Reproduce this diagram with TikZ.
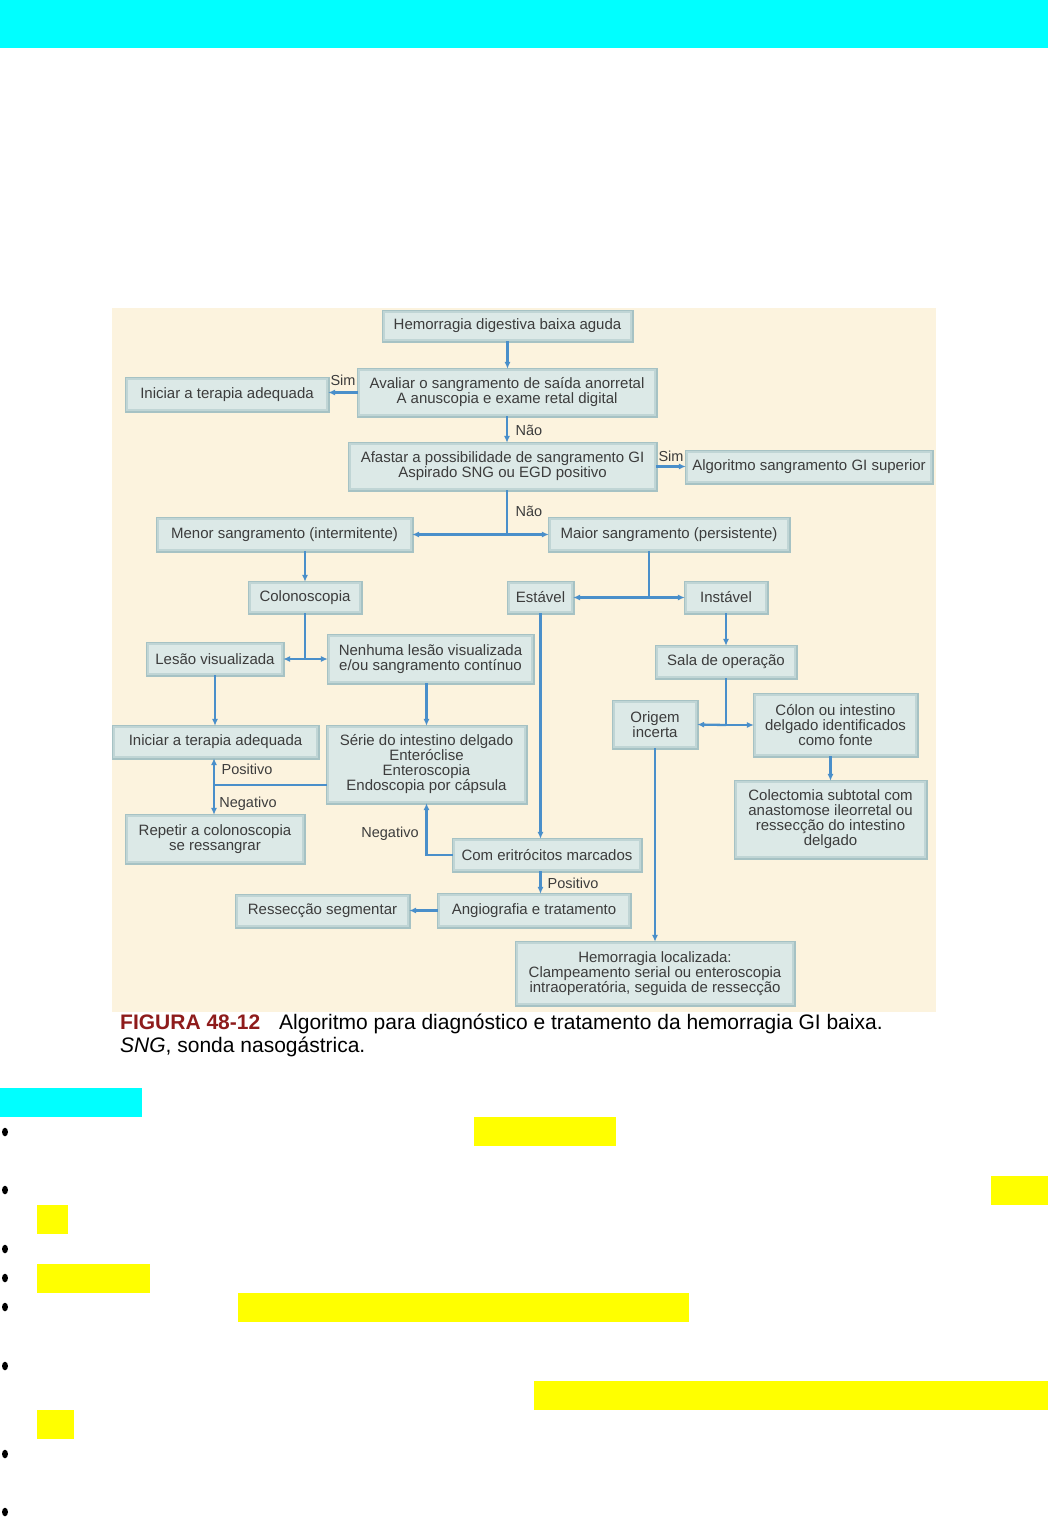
\documentclass[tikz,border=0pt]{standalone}
\usepackage{fontspec}
\setmainfont{Liberation Sans}
\usetikzlibrary{arrows.meta,calc}
\definecolor{cyanbar}{HTML}{00FFFF}
\definecolor{hl}{HTML}{FFFF00}
\definecolor{cream}{HTML}{FCF3DE}
\definecolor{boxfill}{HTML}{DCE9E7}
\definecolor{boxedge}{HTML}{C0D5D5}
\definecolor{boxouter}{HTML}{A6C2C4}
\definecolor{arrowc}{HTML}{4A8FCA}
\definecolor{txt}{HTML}{3C3C3C}
\definecolor{figred}{HTML}{8E1B1B}
\begin{document}
\begin{tikzpicture}[x=1pt,y=-1pt,
  box/.style={preaction={draw=boxouter,line width=5pt},draw=boxedge,line width=2.2pt,fill=boxfill,inner sep=0pt,align=center,text=txt,font=\fontsize{15}{15}\selectfont},
  lbl/.style={inner sep=0pt,text=txt,font=\fontsize{14.5}{15}\selectfont},
  conn/.style={draw=arrowc,line width=2.3pt},
  arr/.style={conn,-{Latex[length=7pt,width=6pt]}},
  captxt/.style={anchor=base west,inner sep=0pt,font=\fontsize{21}{23}\selectfont},
]
\useasboundingbox (0,0) rectangle (1048,1517);
\fill[white] (0,0) rectangle (1048,1517);
\fill[cyanbar] (0,0) rectangle (1048,48);
\fill[cream] (112,308) rectangle (936,1012);

% boxes
\node[box,minimum width=247pt,minimum height=28pt] (hem) at (507.5,326) {Hemorragia digestiva baixa aguda};
\node[box,minimum width=296pt,minimum height=45pt] (aval) at (507,392.5) {Avaliar o sangramento de saída anorretal\\A anuscopia e exame retal digital};
\node[box,minimum width=200pt,minimum height=31pt] (ini1) at (227,394.5) {Iniciar a terapia adequada};
\node[box,minimum width=305pt,minimum height=45pt] (afas) at (502.5,466.5) {Afastar a possibilidade de sangramento GI\\Aspirado SNG ou EGD positivo};
\node[box,minimum width=244pt,minimum height=30pt] (algo) at (809,467) {Algoritmo sangramento GI superior};
\node[box,minimum width=253pt,minimum height=31pt] (menor) at (284.5,534.5) {Menor sangramento (intermitente)};
\node[box,minimum width=238pt,minimum height=31pt] (maior) at (669,534.5) {Maior sangramento (persistente)};
\node[box,minimum width=110pt,minimum height=29pt] (colo) at (305,597.5) {Colonoscopia};
\node[box,minimum width=63pt,minimum height=29pt] (estavel) at (540.5,597.5) {Estável};
\node[box,minimum width=80pt,minimum height=29pt] (instavel) at (726,597.5) {Instável};
\node[box,minimum width=134pt,minimum height=30pt] (lesao) at (215,659) {Lesão visualizada};
\node[box,minimum width=203pt,minimum height=46pt] (nenhuma) at (430.5,659) {Nenhuma lesão visualizada\\e/ou sangramento contínuo};
\node[box,minimum width=138pt,minimum height=30pt] (sala) at (726,662) {Sala de operação};
\node[box,minimum width=82pt,minimum height=45pt] (origem) at (655,724.5) {Origem\\incerta};
\node[box,minimum width=161pt,minimum height=60pt] (colon) at (835.5,725) {Cólon ou intestino\\delgado identificados\\como fonte};
\node[box,minimum width=203pt,minimum height=30pt] (ini2) at (215.5,742) {Iniciar a terapia adequada};
\node[box,minimum width=197pt,minimum height=75pt] (serie) at (426.5,764.5) {Série do intestino delgado\\Enteróclise\\Enteroscopia\\Endoscopia por cápsula};
\node[box,minimum width=189pt,minimum height=75pt] (colect) at (830.5,819.5) {Colectomia subtotal com\\anastomose ileorretal ou\\ressecção do intestino\\delgado};
\node[box,minimum width=176pt,minimum height=46pt] (repetir) at (215,839) {Repetir a colonoscopia\\se ressangrar};
\node[box,minimum width=186pt,minimum height=30pt] (comeri) at (547,855) {Com eritrócitos marcados};
\node[box,minimum width=171pt,minimum height=30pt] (ressec) at (322.5,911) {Ressecção segmentar};
\node[box,minimum width=190pt,minimum height=31pt] (angio) at (534,910.5) {Angiografia e tratamento};
\node[box,minimum width=276pt,minimum height=61pt] (hemloc) at (655,973.5) {Hemorragia localizada:\\Clampeamento serial ou enteroscopia\\intraoperatória, seguida de ressecção};

% junctions
\coordinate (j1) at (507,534.5);
\coordinate (j2) at (305,659);
\coordinate (j3) at (649,597.5);
\coordinate (j4) at (726,725);
\coordinate (j5) at (214,785);

% connectors
\draw[arr] (hem.south) -- (hem.south |- aval.north);
\draw[arr] (aval.west) -- (aval.west -| ini1.east);
\draw[arr] (j1 |- aval.south) -- (j1 |- afas.north);
\draw[arr] (afas.east) -- (afas.east -| algo.west);
\draw[conn] (j1 |- afas.south) -- (j1);
\draw[arr] (j1) -- (menor.east);
\draw[arr] (j1) -- (maior.west);
\draw[arr] (colo.north |- menor.south) -- (colo.north);
\draw[conn] (colo.south) -- (j2);
\draw[arr] (j2) -- (lesao.east);
\draw[arr] (j2) -- (nenhuma.west);
\draw[conn] (j3 |- maior.south) -- (j3);
\draw[arr] (j3) -- (estavel.east);
\draw[arr] (j3) -- (instavel.west);
\draw[arr] (lesao.south) -- (lesao.south |- ini2.north);
\draw[arr] (serie.north |- nenhuma.south) -- (serie.north);
\draw[arr] (instavel.south) -- (instavel.south |- sala.north);
\draw[conn] (sala.south) -- (j4);
\draw[arr] (j4) -- (origem.east);
\draw[arr] (j4) -- (colon.west);
\draw[arr] (colect.north |- colon.south) -- (colect.north);
\draw[conn] (serie.west |- j5) -- (j5);
\draw[arr] (j5) -- (j5 |- ini2.south);
\draw[arr] (j5) -- (j5 |- repetir.north);
\draw[arr] (estavel.south) -- (estavel.south |- comeri.north);
\draw[arr] (comeri.west) -| (serie.south);
\draw[arr] (estavel.south |- comeri.south) -- (estavel.south |- angio.north);
\draw[arr] (angio.west) -- (angio.west -| ressec.east);
\draw[arr] (origem.south) -- (origem.south |- hemloc.north);

% labels
\node[lbl] (l1) at (343,380) {Sim};
\node[lbl] (l2) at (529,430) {Não};
\node[lbl] (l3) at (671,456) {Sim};
\node[lbl] (l4) at (529,511) {Não};
\node[lbl] (l5) at (247,769) {Positivo};
\node[lbl] (l6) at (248,804) {Negativo};
\node[lbl] (l7) at (390,834) {Negativo};
\node[lbl] (l8) at (573,883) {Positivo};

% caption
\node[captxt,text=figred] (fig) at (120,1029) {\bfseries FIGURA 48-12};
\node[captxt] (cap1) at (279,1029) {Algoritmo para diagnóstico e tratamento da hemorragia GI baixa.};
\node[captxt] (cap2) at (120,1052) {\textit{SNG}, sonda nasogástrica.};

% lower part
\fill[cyanbar] (0,1088) rectangle (142,1117);
\fill[hl] (474,1117) rectangle (616,1146);
\fill[hl] (991,1176) rectangle (1048,1205);
\fill[hl] (37,1205) rectangle (68,1234);
\fill[hl] (37,1264) rectangle (150,1293);
\fill[hl] (238,1293) rectangle (689,1322);
\fill[hl] (534,1381) rectangle (1048,1410);
\fill[hl] (37,1410) rectangle (74,1439);
\foreach \yy in {1132,1190,1249,1278,1307,1366,1454,1512}
  \fill[black] (5,\yy) ellipse (3 and 4.3);
\end{tikzpicture}
\end{document}
